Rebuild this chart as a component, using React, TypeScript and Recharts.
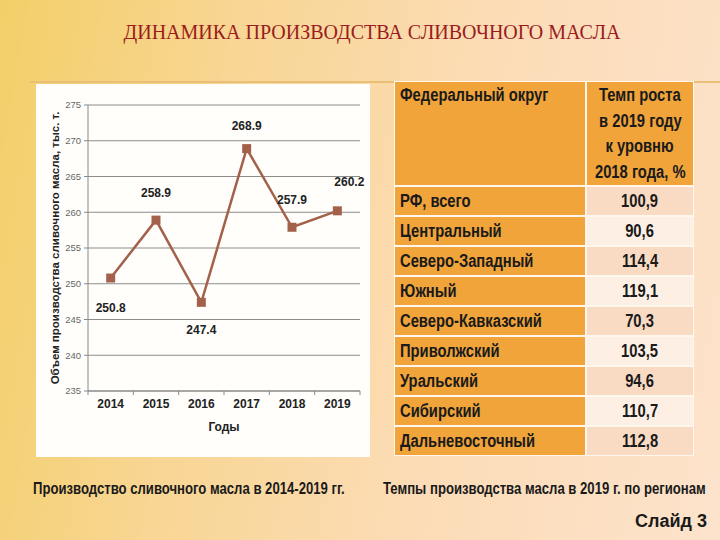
import React from 'react'
import { LineChart, Line, XAxis, YAxis, CartesianGrid, Label, LabelList } from 'recharts'

const years = ['2014', '2015', '2016', '2017', '2018', '2019']
const butterOutput = [250.8, 258.9, 247.4, 268.9, 257.9, 260.2]
const yTicks = [235, 240, 245, 250, 255, 260, 265, 270, 275]

const districts = [
  'РФ, всего',
  'Центральный',
  'Северо-Западный',
  'Южный',
  'Северо-Кавказский',
  'Приволжский',
  'Уральский',
  'Сибирский',
  'Дальневосточный',
]
const growthRates = ['100,9', '90,6', '114,4', '119,1', '70,3', '103,5', '94,6', '110,7', '112,8']
const headerLines = ['Темп роста', 'в 2019 году', 'к уровню', '2018 года, %']

const chartData = years.map((year, i) => ({ year, value: butterOutput[i] }))

const LINE = '#a3604a'
const SANS = '"Liberation Sans", Arial, sans-serif'

const CHART_W = 334
const CHART_H = 373
const MARGIN = { top: 21, right: 10, left: 0, bottom: 0 }
const Y_W = 52
const HALF_BAND = (CHART_W - MARGIN.left - MARGIN.right - Y_W) / years.length / 2

// where each value label sits relative to its marker
const labelShift: [number, number][] = [
  [0, 30], [0, -27], [0, 28], [0, -23], [0, -27], [12, -29],
]

// no narrow font installed, so squeeze Liberation Sans Bold instead
const Narrow = ({ children, origin = 'left center' }: { children: React.ReactNode; origin?: string }) => (
  <span
    style={{
      display: 'inline-block',
      whiteSpace: 'nowrap',
      transform: 'scaleX(0.82)',
      transformOrigin: origin,
    }}
  >
    {children}
  </span>
)

const SquareDot = (props: any) => {
  const { cx, cy } = props
  if (cx == null || cy == null) return null
  return <rect x={cx - 4.5} y={cy - 4.5} width={9} height={9} fill={LINE} />
}

const ValueLabel = (props: any) => {
  const { x, y, value, index } = props
  const [dx, dy] = labelShift[index] || [0, -25]
  return (
    <text
      x={x + dx}
      y={y + dy}
      textAnchor="middle"
      dominantBaseline="central"
      fontFamily={SANS}
      fontWeight="bold"
      fontSize={12}
      fill="#222"
    >
      {value.toFixed(1)}
    </text>
  )
}

const YearTick = (props: any) => {
  const { x, y, payload, index } = props
  const axisY = y - 6
  return (
    <g>
      <line x1={x - HALF_BAND} x2={x - HALF_BAND} y1={axisY} y2={axisY + 4} stroke="#888" />
      {index === years.length - 1 && (
        <line x1={x + HALF_BAND} x2={x + HALF_BAND} y1={axisY} y2={axisY + 4} stroke="#888" />
      )}
      <text
        x={x}
        y={y + 7}
        textAnchor="middle"
        dominantBaseline="central"
        fontFamily={SANS}
        fontWeight="bold"
        fontSize={12}
        fill="#222"
      >
        {payload.value}
      </text>
    </g>
  )
}

const ORANGE = '#f0a43a'

const cell: React.CSSProperties = {
  fontFamily: SANS,
  fontWeight: 'bold',
  fontSize: 18,
  color: '#1a1a1a',
  display: 'flex',
  alignItems: 'center',
  overflow: 'hidden',
}

export default function App() {
  return (
    <div
      style={{
        position: 'absolute',
        left: 0,
        top: 0,
        width: 720,
        height: 540,
        overflow: 'hidden',
        background: 'linear-gradient(100deg, #f3cf68 0%, #f8d694 30%, #fcdcb6 62%, #fde3cc 100%)',
      }}
    >
      <div
        style={{
          position: 'absolute',
          top: 21,
          left: 0,
          width: 744,
          textAlign: 'center',
          fontFamily: '"Liberation Serif", "Times New Roman", serif',
          fontSize: 20,
          color: '#9a1c1c',
        }}
      >
        ДИНАМИКА ПРОИЗВОДСТВА СЛИВОЧНОГО МАСЛА
      </div>

      <div style={{ position: 'absolute', top: 81, left: 30, width: 690, height: 2, background: '#e9bf78' }} />

      {/* line chart */}
      <div style={{ position: 'absolute', left: 36, top: 84, width: CHART_W, height: CHART_H, background: '#fffefb' }}>
        <LineChart width={CHART_W} height={CHART_H} data={chartData} margin={MARGIN}>
          <CartesianGrid vertical={false} stroke="#8c8c8c" />
          <XAxis
            dataKey="year"
            height={66}
            padding={{ left: HALF_BAND, right: HALF_BAND }}
            axisLine={{ stroke: '#888' }}
            tickLine={false}
            tickSize={4}
            tickMargin={2}
            tick={<YearTick />}
            interval={0}
          >
            <Label
              value="Годы"
              position="insideBottom"
              offset={26}
              fontFamily={SANS}
              fontWeight="bold"
              fontSize={12}
              fill="#222"
            />
          </XAxis>
          <YAxis
            width={Y_W}
            domain={[235, 275]}
            ticks={yTicks}
            interval={0}
            axisLine={{ stroke: '#888' }}
            tickLine={{ stroke: '#888' }}
            tickSize={4}
            tickMargin={3}
            tick={{ fontFamily: SANS, fontSize: 9.5, fill: '#666' }}
          >
            <Label
              value="Объем производства сливочного масла, тыс. т."
              angle={-90}
              position="insideLeft"
              offset={19}
              fontFamily={SANS}
              fontWeight="bold"
              fontSize={11.5}
              fill="#222"
              style={{ textAnchor: 'middle' }}
            />
          </YAxis>
          <Line
            type="linear"
            dataKey="value"
            stroke={LINE}
            strokeWidth={2.5}
            dot={<SquareDot />}
            activeDot={false}
            isAnimationActive={false}
          >
            <LabelList dataKey="value" content={<ValueLabel />} />
          </Line>
        </LineChart>
      </div>

      {/* table */}
      <div
        style={{
          position: 'absolute',
          left: 394,
          top: 81,
          padding: 1,
          display: 'grid',
          gridTemplateColumns: '190px 106px',
          gridTemplateRows: '103px repeat(9, 28px)',
          gap: 2,
          background: '#fff6ee',
        }}
      >
        <div style={{ ...cell, background: ORANGE, alignItems: 'flex-start', padding: '3px 0 0 5px' }}>
          <Narrow>Федеральный округ</Narrow>
        </div>
        <div
          style={{
            ...cell,
            background: ORANGE,
            flexDirection: 'column',
            justifyContent: 'center',
            lineHeight: '25.5px',
            paddingTop: 1,
          }}
        >
          {headerLines.map((l) => (
            <Narrow key={l} origin="center center">
              {l}
            </Narrow>
          ))}
        </div>
        {districts.map((d, i) => (
          <React.Fragment key={d}>
            <div style={{ ...cell, background: ORANGE, paddingLeft: 5 }}>
              <Narrow>{d}</Narrow>
            </div>
            <div
              style={{
                ...cell,
                justifyContent: 'center',
                background: i % 2 === 0 ? '#f9dbc3' : '#fdefe4',
              }}
            >
              <Narrow origin="center center">{growthRates[i]}</Narrow>
            </div>
          </React.Fragment>
        ))}
      </div>

      <div
        style={{
          position: 'absolute',
          left: 33,
          top: 480,
          fontFamily: SANS,
          fontWeight: 'bold',
          fontSize: 16,
          color: '#1a1a1a',
        }}
      >
        <Narrow>Производство сливочного масла в 2014-2019 гг.</Narrow>
      </div>
      <div
        style={{
          position: 'absolute',
          left: 383,
          top: 480,
          fontFamily: SANS,
          fontWeight: 'bold',
          fontSize: 16,
          color: '#1a1a1a',
        }}
      >
        <Narrow>Темпы производства масла в 2019 г. по регионам</Narrow>
      </div>
      <div
        style={{
          position: 'absolute',
          right: 13,
          top: 511,
          fontFamily: SANS,
          fontWeight: 'bold',
          fontSize: 18,
          color: '#1a1a1a',
        }}
      >
        Слайд 3
      </div>
    </div>
  )
}
